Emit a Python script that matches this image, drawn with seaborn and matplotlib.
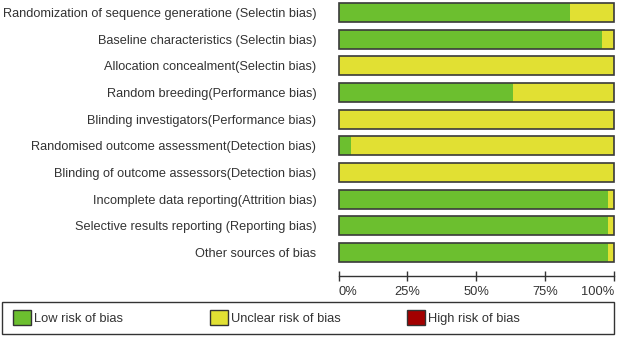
import numpy as np
import pandas as pd
import matplotlib
matplotlib.use('Agg')
import matplotlib.pyplot as plt
from matplotlib.patches import Patch, Rectangle
import seaborn as sns

domains = ['Randomization of sequence generatione (Selectin bias)',
           'Baseline characteristics (Selectin bias)',
           'Allocation concealment(Selectin bias)',
           'Random breeding(Performance bias)',
           'Blinding investigators(Performance bias)',
           'Randomised outcome assessment(Detection bias)',
           'Blinding of outcome assessors(Detection bias)',
           'Incomplete data reporting(Attrition bias)',
           'Selective results reporting (Reporting bias)',
           'Other sources of bias']
low = [84.1, 95.5, 0, 63.2, 0, 4.5, 0, 97.7, 97.7, 97.7]
unclear = [15.9, 4.5, 100, 36.8, 100, 95.5, 100, 2.3, 2.3, 2.3]
high = [0, 0, 0, 0, 0, 0, 0, 0, 0, 0]
ticks = [0, 25, 50, 75, 100]
tick_labels = ['0%', '25%', '50%', '75%', '100%']
legend_labels = ['Low risk of bias', 'Unclear risk of bias', 'High risk of bias']

c_low, c_unc, c_high = '#6cbf2f', '#e1e033', '#a30000'

df = pd.DataFrame({'domain': domains, 'low': low, 'unclear': unclear, 'high': high})
df['lu'] = df['low'] + df['unclear']
df['total'] = df['lu'] + df['high']

sns.set_style('white')
plt.rcParams['font.family'] = ['Liberation Sans', 'DejaVu Sans']

fig = plt.figure(figsize=(6.18, 3.37), dpi=100)
ax = fig.add_axes([338.5/618, 1 - 276/337, 275.5/618, 276/337])

for col, c in [('total', c_high), ('lu', c_unc), ('low', c_low)]:
    sns.barplot(data=df, x=col, y='domain', orient='h', color=c, width=0.72,
                linewidth=0, saturation=1, ax=ax)
sns.barplot(data=df, x='total', y='domain', orient='h', fill=False, width=0.72,
            edgecolor='#3a3a3a', linewidth=1.2, ax=ax)
for p in ax.patches:
    p.set_clip_on(False)

ax.set_xlim(0, 100)
ax.set_ylim(9.88, -0.47)
ax.set_xlabel('')
ax.set_ylabel('')
for s in ['left', 'right', 'top']:
    ax.spines[s].set_visible(False)
ax.spines['bottom'].set_bounds(0, 100)
ax.spines['bottom'].set_color('#333333')
ax.spines['bottom'].set_linewidth(1.0)
ax.set_xticks(ticks)
ax.set_xticklabels(tick_labels)
ax.tick_params(axis='x', direction='inout', length=7, width=1.0, color='#333333',
               labelsize=9.3, labelcolor='#333333', pad=4, bottom=True)
ax.tick_params(axis='y', length=0, labelsize=9.2, labelcolor='#333333', pad=16)
xl = ax.get_xticklabels()
xl[0].set_ha('left')
xl[-1].set_ha('right')

# legend box
fig.patches.append(Rectangle((2/618, 3/337), 612/618, 32/337, transform=fig.transFigure,
                             fill=False, edgecolor='#333333', linewidth=1.0))
for lab, c, x0 in zip(legend_labels, [c_low, c_unc, c_high], [13, 210, 407]):
    h = Patch(facecolor=c, edgecolor='#333333', linewidth=1.0)
    fig.legend([h], [lab], loc='center left', bbox_to_anchor=(x0/618, 19.5/337),
               frameon=False, borderpad=0, borderaxespad=0, fontsize=9.3,
               handlelength=1.4, handleheight=1.4, handletextpad=0.25,
               labelcolor='#333333')

fig.savefig('out.png', dpi=100)
